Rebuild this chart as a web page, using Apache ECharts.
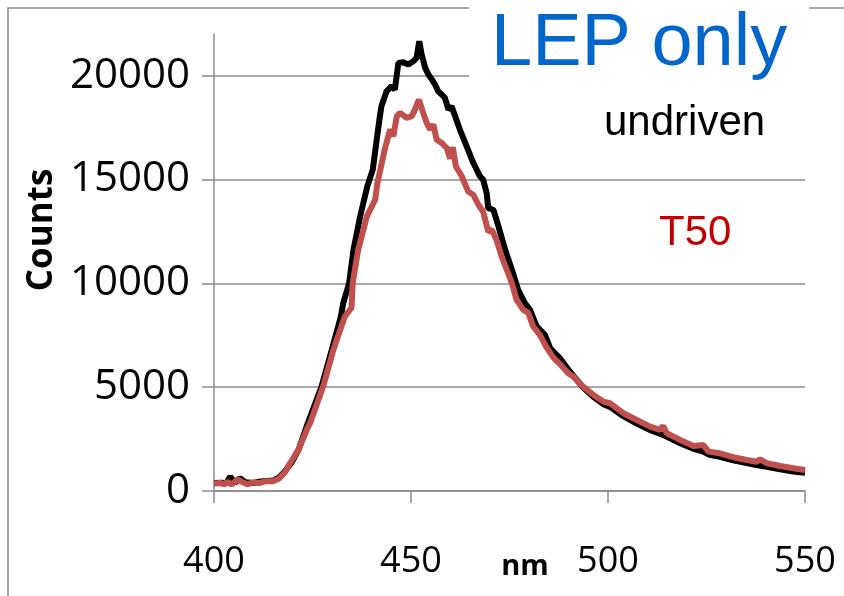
<!DOCTYPE html>
<html>
<head>
<meta charset="utf-8">
<script src="https://cdn.jsdelivr.net/npm/echarts@6/dist/echarts.min.js"></script>
<style>
  html, body { margin: 0; padding: 0; background: #ffffff; }
  #chart { width: 844px; height: 596px; }
</style>
</head>
<body>
<div id="chart"></div>
<script>
// Emission spectrum, LEP only: wavelength (nm) and counts per trace
const undrivenNm = [400, 402, 403, 404.1, 405.3, 406.6, 408, 409.9, 411.5, 413, 415, 416.5, 418, 419.8, 421.5,
  423.5, 427.3, 429.9, 432.2, 432.8, 434.3, 435.4, 437.1, 438.9, 440.3, 441.3, 442.1, 442.5, 443.8, 445.1,
  445.9, 446.8, 448.0, 449.3, 450.6, 451.4, 452.1, 452.7, 453.6, 454.4, 455.3, 456.1, 456.9, 457.8, 458.6,
  459.5, 460.3, 461.2, 462.4, 464.1, 465.8, 467.5, 468.3, 469.2, 469.6, 470.9, 472.2, 473.9, 475.6, 477.2,
  478.9, 480.2, 481.9, 484.0, 485.3, 486.5, 487.8, 489.9, 491.2, 493.7, 496.3, 498.8, 500.5, 503.9, 507.3,
  510.7, 513.2, 514.9, 518.3, 521.7, 524.2, 525.5, 528.4, 531.8, 535.2, 537.7, 540.3, 543.7, 547.0, 550.0];
const undrivenCounts = [380, 400, 350, 690, 390, 620, 420, 380, 450, 480, 500, 650, 950, 1400, 2000,
  3100, 5025, 6795, 8400, 9045, 10010, 11610, 13220, 14665, 15470, 16915, 18040, 18520, 19240, 19485,
  19325, 20610, 20640, 20530, 20690, 20850, 21650, 21010, 20370, 20050, 19810, 19565, 19240, 19085, 18925,
  18360, 18520, 18040, 17400, 16600, 15800, 15150, 14990, 14350, 13620, 13540, 12740, 11610, 10650, 9685,
  9045, 8720, 7920, 7520, 6875, 6635, 6395, 5850, 5550, 4980, 4530, 4180, 4050, 3600, 3250,
  2930, 2760, 2620, 2300, 2030, 1900, 1760, 1650, 1480, 1340, 1250, 1170, 1040, 940, 880];

const t50Nm = [400, 401.5, 402.5, 403.5, 404.5, 406, 407, 408.5, 410, 411.5, 413, 415, 416.5, 418, 419.3,
  421.4, 423.9, 424.4, 427.7, 430.3, 433.2, 434.9, 435.2, 436.6, 438.8, 440.9, 441.5, 443.4, 444.7, 445.5,
  446.4, 447.2, 448.9, 450.2, 451.0, 452.0, 453.1, 454.0, 454.8, 455.7, 456.5, 457.8, 459.1, 459.9, 460.6,
  461.4, 462.9, 464.5, 465.8, 467.1, 468.3, 469.6, 470.5, 471.7, 473.0, 474.3, 475.6, 476.8, 478.5, 479.8,
  481.0, 482.7, 484.4, 486.1, 487.8, 489.9, 491.2, 493.7, 496.3, 498.8, 500.5, 503.9, 507.3, 510.7, 513.2,
  514.0, 514.9, 518.3, 521.7, 524.2, 525.5, 528.4, 531.8, 535.2, 537.7, 538.6, 540.3, 543.7, 547.0, 550.0];
const t50Counts = [360, 390, 330, 440, 310, 560, 450, 330, 420, 380, 470, 470, 600, 900, 1335,
  1975, 3100, 3270, 5025, 6795, 8400, 8820, 10010, 11610, 13220, 14020, 14850, 16500, 17400, 17075,
  18040, 18200, 17960, 18040, 18360, 18840, 18200, 17720, 17400, 17640, 16915, 16755, 16500, 16000, 16550,
  15620, 15150, 14420, 14265, 13780, 13460, 12495, 12580, 12095, 11290, 10650, 10010, 9205, 8720, 8565,
  7920, 7520, 6915, 6435, 6110, 5670, 5510, 5025, 4625, 4305, 4225, 3745, 3420, 3100, 2940,
  3130, 2780, 2460, 2170, 2215, 1895, 1815, 1625, 1495, 1410, 1530, 1335, 1205, 1095, 1010];

const xTicks = [400, 450, 500, 550];
const yTicks = [0, 5000, 10000, 15000, 20000];

const pairs = (xs, ys) => xs.map((x, i) => [x, ys[i]]);
const gridGray = '#8c8c8c';
const tickFont = 'Open Sans, Lato, sans-serif';

const chart = echarts.init(document.getElementById('chart'), null, { renderer: 'canvas' });
chart.setOption({
  animation: false,
  backgroundColor: '#ffffff',
  grid: { left: 214, right: 39, top: 34, bottom: 105, containLabel: false, outerBoundsMode: 'none' },
  xAxis: {
    type: 'value', min: 400, max: 550, interval: 50,
    axisLine: { show: true, lineStyle: { color: gridGray, width: 1.5 } },
    axisTick: { show: true, inside: false, length: 12, lineStyle: { color: gridGray, width: 1.5 } },
    axisLabel: { margin: 53, fontFamily: tickFont, fontSize: 36, color: '#000', customValues: xTicks,
      formatter: (v) => String(v) },
    splitLine: { show: false }
  },
  yAxis: {
    type: 'value', min: 0, max: 22000,
    axisLine: { show: true, onZero: false, lineStyle: { color: gridGray, width: 1.5 } },
    axisTick: { show: true, inside: false, length: 12, customValues: yTicks, lineStyle: { color: gridGray, width: 1.5 } },
    axisLabel: { margin: 24, fontFamily: tickFont, fontSize: 42, color: '#000', customValues: yTicks,
      formatter: (v) => String(v) },
    splitLine: { show: true, lineStyle: { color: gridGray, width: 1.5 } }
  },
  series: [
    {
      name: 'undriven', type: 'line', data: pairs(undrivenNm, undrivenCounts),
      showSymbol: false, smooth: false, z: 3,
      lineStyle: { color: '#000000', width: 6 }
    },
    {
      name: 'T50', type: 'line', data: pairs(t50Nm, t50Counts),
      showSymbol: false, smooth: false, z: 4,
      lineStyle: { color: '#C0504D', width: 6 }
    }
  ],
  graphic: [
    { type: 'rect', z: -1, shape: { x: 8, y: 8, width: 900, height: 700 },
      style: { fill: 'none', stroke: gridGray, lineWidth: 1.5 } },
    { type: 'rect', z: 10, shape: { x: 469, y: 0, width: 340, height: 98 },
      style: { fill: '#ffffff' } },
    { type: 'text', z: 11, left: 491, top: 8,
      style: { text: 'LEP only', fill: '#0066CC', font: '74px "Liberation Sans", Arial, sans-serif' } },
    { type: 'text', z: 11, left: 604, top: 102,
      style: { text: 'undriven', fill: '#000000', font: '42px "Liberation Sans", Arial, sans-serif' } },
    { type: 'text', z: 11, left: 659, top: 212,
      style: { text: 'T50', fill: '#C00000', font: '42px "Liberation Sans", Arial, sans-serif' } },
    { type: 'text', z: 11, x: 42, y: 230, rotation: Math.PI / 2,
      style: { text: 'Counts', fill: '#000000', align: 'center', verticalAlign: 'middle',
        font: 'bold 35px "Open Sans", Lato, sans-serif' } },
    { type: 'text', z: 11, x: 525, y: 567,
      style: { text: 'nm', fill: '#000000', align: 'center', verticalAlign: 'middle',
        font: 'bold 29px "Open Sans", Lato, sans-serif' } }
  ]
});
</script>
</body>
</html>
